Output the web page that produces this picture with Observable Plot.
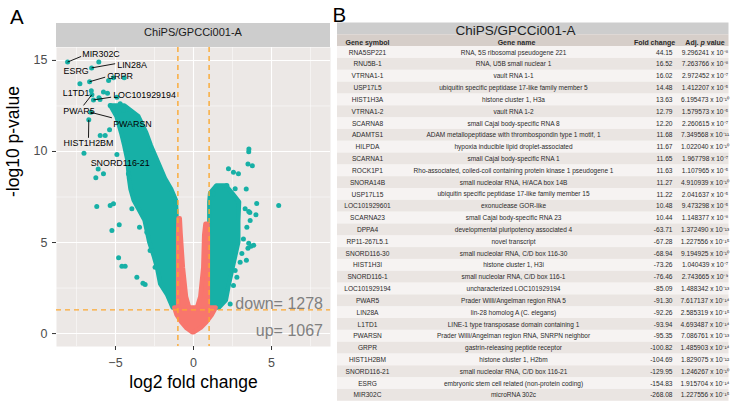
<!DOCTYPE html>
<html>
<head>
<meta charset="utf-8">
<script src="https://cdn.jsdelivr.net/npm/d3@7"></script>
<script src="https://cdn.jsdelivr.net/npm/@observablehq/plot@0.6"></script>
<style>
html, body { margin: 0; padding: 0; background: #fff; }
#wrap { position: relative; width: 735px; height: 408px; overflow: hidden; font-family: "Liberation Sans", Arial, sans-serif; }
.letter { position: absolute; font-size: 20.5px; line-height: 1; color: #000; z-index: 3; }
#strip { position: absolute; left: 56px; top: 23px; width: 274px; height: 24px; background: #CDCDCD; color: #1a1a1a; font-size: 11px; line-height: 19px; text-align: center; z-index: 2; }
#volcano, #table { position: absolute; top: 0; }
#volcano { left: 0; }
#table { left: 337px; }
</style>
</head>
<body>
<div id="wrap">
  <div id="volcano"></div>
  <div id="table"></div>
  <div id="strip"></div>
  <div class="letter" style="left:10px;top:6.6px">A</div>
  <div class="letter" style="left:332.5px;top:4.6px">B</div>
</div>
<script>
// ---------------- data ----------------
const panelTitle = "ChiPS/GPCCi001-A";
const xTitle = "log2 fold change";
const yTitle = "-log10 p-value";
const xTicks = [-5, 0, 5];
const yTicks = [0, 5, 10, 15];
const xMinor = [-7.5, -2.5, 2.5, 7.5];
const yMinor = [2.5, 7.5, 12.5];
const fcCut = [-1, 1];
const pCut = [1.3];
const countLabels = ["down= 1278", "up= 1067"];
const countX = [8.3, 8.3];
const countY = [1.65, 0.17];

const headerLabels = ["Gene symbol", "Gene name", "Fold change", "Adj. p value"];
const geneSymbol = ["RNA5SP221","RNU5B-1","VTRNA1-1","USP17L5","HIST1H3A","VTRNA1-2","SCARNA8","ADAMTS1","HILPDA","SCARNA1","ROCK1P1","SNORA14B","USP17L15","LOC101929601","SCARNA23","DPPA4","RP11-267L5.1","SNORD116-30","HIST1H3I","SNORD116-1","LOC101929194","PWAR5","LIN28A","L1TD1","PWARSN","GRPR","HIST1H2BM","SNORD116-21","ESRG","MIR302C"];
const geneName = ["RNA, 5S ribosomal pseudogene 221","RNA, U5B small nuclear 1","vault RNA 1-1","ubiquitin specific peptidase 17-like family member 5","histone cluster 1, H3a","vault RNA 1-2","small Cajal body-specific RNA 8","ADAM metallopeptidase with thrombospondin type 1 motif, 1","hypoxia inducible lipid droplet-associated","small Cajal body-specific RNA 1","Rho-associated, coiled-coil containing protein kinase 1 pseudogene 1","small nucleolar RNA, H/ACA box 14B","ubiquitin specific peptidase 17-like family member 15","exonuclease GOR-like","small Cajal body-specific RNA 23","developmental pluripotency associated 4","novel transcript","small nucleolar RNA, C/D box 116-30","histone cluster 1, H3i","small nucleolar RNA, C/D box 116-1","uncharacterized LOC101929194","Prader Willi/Angelman region RNA 5","lin-28 homolog A (C. elegans)","LINE-1 type transposase domain containing 1","Prader Willi/Angelman region RNA, SNRPN neighbor","gastrin-releasing peptide receptor","histone cluster 1, H2bm","small nucleolar RNA, C/D box 116-21","embryonic stem cell related (non-protein coding)","microRNA 302c"];
const foldChange = [44.15,16.52,16.02,14.48,13.63,12.79,12.20,11.68,11.67,11.65,11.63,11.27,11.22,10.48,10.44,-63.71,-67.28,-68.94,-73.26,-76.46,-85.09,-91.30,-92.26,-93.94,-95.35,-100.82,-104.69,-129.95,-154.83,-268.08];
const pMantissa = [9.296241,7.263766,2.972452,1.412207,6.195473,1.579573,2.260615,7.349568,1.022040,1.967798,1.107965,4.910939,2.041637,9.473298,1.148377,1.372490,1.227556,9.194925,1.040439,2.743665,1.488342,7.617137,2.585319,4.693487,7.086761,1.485903,1.829075,1.246267,1.915704,1.227556];
const pExponent = [-8,-8,-7,-5,-10,-5,-7,-11,-10,-7,-5,-10,-5,-5,-8,-13,-15,-10,-7,-9,-13,-14,-15,-14,-13,-14,-12,-10,-14,-15];

// positions of these genes in the volcano plot (log2 FC, -log10 p)
const geneLog2FC = [5.46,4.05,4.00,3.86,3.77,3.68,3.61,3.55,3.54,3.54,3.54,3.49,3.49,3.39,3.38,-5.99,-6.07,-6.11,-6.20,-6.26,-6.41,-6.51,-6.53,-6.55,-6.58,-6.66,-6.71,-7.02,-7.28,-8.07];
const geneNegLog10P = [7.03,7.14,6.53,4.85,9.21,4.80,6.65,10.13,9.99,6.71,4.96,9.31,4.69,4.02,7.94,12.86,14.91,9.04,6.98,8.56,12.83,13.12,14.59,13.33,12.15,13.83,11.74,9.90,13.72,14.91];

// other isolated significant points
const extraX = [-5.44,-5.13,-4.44,-5.77,-5.51,-6.06,-5.38,-5.98,-5.66,-4.91,-5.77,-4.17,-4.91,-4.70,-4.49,-5.02,-5.34,-5.34,-5.13,-3.95,-4.76,-5.23,-3.46,-4.80,-4.59,-4.38,-3.63,-3.24,-3.10,-2.46,-2.78,-2.99,
                2.24,2.56,2.88,1.71,2.14,2.67,1.28,2.99,2.67,2.56,2.35,2.78,3.42,3.63,3.31,3.20,3.10];
const extraY = [13.90,14.05,14.05,13.26,13.20,12.95,11.19,10.88,10.88,9.84,8.77,8.77,12.98,12.62,12.25,12.25,12.53,7.03,7.13,6.85,5.97,5.66,5.84,4.16,3.70,3.70,3.09,2.76,2.69,3.64,4.56,5.57,
                9.05,8.86,8.77,8.04,8.13,7.95,7.68,3.92,3.46,2.64,1.63,3.09,5.84,6.21,6.85,5.20,4.40];

// dense point clouds: outline per -log10 p level (left / right extent)
const tlY  = [1.4, 1.7, 2.1, 2.7, 3.6, 4.2, 5.0, 6.2, 7.3, 7.9, 8.5, 9.5, 10.3, 11.0, 11.9, 12.5];
const tlX1 = [-1.3,-1.45,-1.65,-2.1,-2.3,-2.5,-2.8,-3.1,-3.8,-4.0,-4.1,-4.2,-4.4,-4.6,-4.9,-5.3];
const tlX2 = [-1.05,-1.05,-1.05,-1.05,-1.05,-1.05,-1.05,-1.05,-1.1,-1.4,-1.8,-2.3,-2.7,-3.0,-3.5,-4.4];
const trY  = [1.4, 1.8, 2.7, 3.65, 5.0, 6.2, 7.2, 7.7, 8.1];
const trX1 = [1.05,1.05,1.05,1.05,1.05,1.05,1.05,1.1,1.5];
const trX2 = [1.65,2.1,2.3,2.55,2.9,2.9,2.95,2.5,2.1];
const rbY  = [0.05, 0.3, 0.6, 1.0, 1.4];
const rbX1 = [-0.05,-0.45,-0.75,-1.05,-1.2];
const rbX2 = [0.05,0.5,0.85,1.2,1.45];
const rlY  = [1.3, 2.0, 3.6, 5.5, 6.3];
const rlX1 = [-0.95,-0.95,-0.95,-0.95,-0.93];
const rlX2 = [-0.22,-0.45,-0.65,-0.8,-0.85];
const rrY  = [1.3, 2.0, 3.6, 5.4, 6.0];
const rrX1 = [0.22,0.47,0.66,0.72,0.8];
const rrX2 = [0.95,0.95,0.95,0.95,0.93];

// gene labels
const labelGene = ["MIR302C","LIN28A","ESRG","GRPR","L1TD1","LOC101929194","PWAR5","PWARSN","HIST1H2BM","SNORD116-21"];
const labelX = [-7.13,-4.89,-7.52,-5.53,-7.53,-5.15,-7.34,-5.15,-6.73,-4.70];
const labelY = [15.33,14.76,14.40,14.12,13.22,13.08,12.20,11.52,10.46,9.38];
const leaderGene = ["MIR302C","LIN28A","GRPR","LOC101929194","PWAR5","PWARSN","HIST1H2BM"];
const leaderEndX = [-7.2,-5.02,-5.66,-5.28,-7.05,-5.23,-6.73];
const leaderEndY = [15.22,14.82,14.08,12.98,12.53,11.85,10.75];

// ---------------- build ----------------
const TEAL = "#17B0A6", RED = "#F8766D", ORANGE = "#FBA832";
const font = "'Liberation Sans', Arial, sans-serif";
const outline = (Y, X1, X2) => Y.map((y, i) => ({y, x1: X1[i], x2: X2[i]}));
const genePts = geneSymbol.map((g, i) => ({g, x: geneLog2FC[i], y: geneNegLog10P[i]}));
const extraPts = extraX.map((x, i) => ({x, y: extraY[i]}));
const labels = labelGene.map((g, i) => ({g, x: labelX[i], y: labelY[i]}));
const startAnchored = new Set(["MIR302C","LIN28A","GRPR","LOC101929194","PWARSN"]);
const leaders = leaderGene.map((g, i) => {
  const k = geneSymbol.indexOf(g);
  return {x1: geneLog2FC[k], y1: geneNegLog10P[k], x2: leaderEndX[i], y2: leaderEndY[i]};
});
const counts = countLabels.map((t, i) => ({t, x: countX[i], y: countY[i]}));
const areaOpts = (fill) => ({y: "y", x1: "x1", x2: "x2", fill, stroke: fill, strokeWidth: 4.5, strokeLinejoin: "round"});

document.getElementById("strip").textContent = panelTitle;

const volcano = Plot.plot({
  width: 335, height: 408,
  marginLeft: 56, marginRight: 5, marginTop: 47, marginBottom: 62,
  style: {fontFamily: font, background: "transparent", overflow: "visible"},
  x: {domain: [-8.78, 8.78]},
  y: {domain: [-0.71, 15.71]},
  marks: [
    Plot.frame({fill: "#ECE8E6", stroke: "none"}),
    Plot.ruleX(xMinor, {stroke: "#fff", strokeWidth: 0.5}),
    Plot.ruleY(yMinor, {stroke: "#fff", strokeWidth: 0.5}),
    Plot.ruleX(xTicks, {stroke: "#fff", strokeWidth: 1.1}),
    Plot.ruleY(yTicks, {stroke: "#fff", strokeWidth: 1.1}),
    Plot.areaX(outline(tlY, tlX1, tlX2), areaOpts(TEAL)),
    Plot.areaX(outline(trY, trX1, trX2), areaOpts(TEAL)),
    Plot.dot(extraPts, {x: "x", y: "y", r: 2.5, fill: TEAL}),
    Plot.dot(genePts, {x: "x", y: "y", r: 2.5, fill: TEAL}),
    Plot.areaX(outline(rbY, rbX1, rbX2), areaOpts(RED)),
    Plot.areaX(outline(rlY, rlX1, rlX2), areaOpts(RED)),
    Plot.areaX(outline(rrY, rrX1, rrX2), areaOpts(RED)),
    Plot.ruleX(fcCut, {stroke: ORANGE, strokeWidth: 1.4, strokeDasharray: "5,4"}),
    Plot.ruleY(pCut, {stroke: ORANGE, strokeWidth: 1.4, strokeDasharray: "5,4"}),
    Plot.text(counts, {x: "x", y: "y", text: "t", textAnchor: "end", fontSize: 16, fill: "#808080"}),
    Plot.link(leaders, {x1: "x1", y1: "y1", x2: "x2", y2: "y2", stroke: "#000", strokeWidth: 0.9}),
    Plot.text(labels.filter(d => startAnchored.has(d.g)), {x: "x", y: "y", text: "g", textAnchor: "start", fontSize: 8.9, fill: "#000"}),
    Plot.text(labels.filter(d => !startAnchored.has(d.g)), {x: "x", y: "y", text: "g", textAnchor: "middle", fontSize: 8.9, fill: "#000"}),
    Plot.axisX(xTicks, {tickSize: 4, tickPadding: 8, fontSize: 12.5, stroke: "#333", fill: "#4d4d4d", label: null}),
    Plot.axisY(yTicks, {tickSize: 4, tickPadding: 5, fontSize: 12.5, stroke: "#333", fill: "#4d4d4d", label: null}),
    Plot.text([xTitle], {text: d => d, frameAnchor: "bottom", dy: 41.5, fontSize: 17.5, fill: "#000"}),
    Plot.text([yTitle], {text: d => d, frameAnchor: "left", dx: -43.3, rotate: -90, fontSize: 17.5, fill: "#000"})
  ]
});
document.getElementById("volcano").appendChild(volcano);

// ---------------- table ----------------
const sup = {"-": "\u207B", "0": "\u2070", "1": "\u00B9", "2": "\u00B2", "3": "\u00B3", "4": "\u2074", "5": "\u2075", "6": "\u2076", "7": "\u2077", "8": "\u2078", "9": "\u2079"};
const fmtP = (m, e) => m.toFixed(6) + " x 10" + String(e).split("").map(c => sup[c]).join("");
const rows = geneSymbol.map((s, i) => ({key: s, i, name: geneName[i], fc: foldChange[i].toFixed(2), p: fmtP(pMantissa[i], pExponent[i])}));
const rowKeys = ["__title", "__header", ...geneSymbol];
const TW = 391.5;
const colSeps = [60, 292, 342];
const headerX = [30, 179, 317, 367.5];
const sepData = rowKeys.slice(1).flatMap(k => colSeps.map(x => ({k, x})));

const table = Plot.plot({
  width: 392, height: 408, margin: 0,
  style: {fontFamily: font, background: "transparent", overflow: "visible"},
  x: {domain: [0, 392], axis: null},
  y: {type: "band", domain: rowKeys, range: [22.5, 22.5 + 32 * 11.82], padding: 0, round: false, axis: null},
  marks: [
    Plot.barX([{k: "__title"}], {y: "k", x1: 0, x2: TW, fill: "#CDCDCD"}),
    Plot.barX([{k: "__header"}], {y: "k", x1: 0, x2: TW, fill: "#D6CEC9"}),
    Plot.barX(rows.filter(r => r.i % 2 === 0), {y: "key", x1: 0, x2: TW, fill: "#F6F3F2"}),
    Plot.barX(rows.filter(r => r.i % 2 === 1), {y: "key", x1: 0, x2: TW, fill: "#EAE5E2"}),
    Plot.ruleX(sepData, {x: "x", y: "k", stroke: "#fff", strokeWidth: 1}),
    Plot.text([{k: "__title", t: panelTitle}], {x: 178, y: "k", text: "t", dy: 1.8, fontSize: 13.5, fill: "#222", ariaLabel: "table-title"}),
    Plot.text(headerLabels, {x: (d, i) => headerX[i], y: () => "__header", text: d => d, dy: 1.6, fontSize: 7, fontWeight: "bold", fill: "#2a2a2a", ariaLabel: "table-header"}),
    Plot.text(rows, {x: 30, y: "key", text: "key", fontSize: 6.6, fill: "#2a2a2a"}),
    Plot.text(rows, {x: 176, y: "key", text: "name", fontSize: 6.5, fill: "#2a2a2a", ariaLabel: "gene-names"}),
    Plot.text(rows, {x: 335, y: "key", text: "fc", textAnchor: "end", fontSize: 6.6, fill: "#2a2a2a"}),
    Plot.text(rows, {x: 367.5, y: "key", text: "p", fontSize: 6.6, fill: "#2a2a2a"})
  ]
});
d3.select(table).selectAll('g[aria-label="gene-names"] text')
  .attr("transform", function () { return this.getAttribute("transform") + " scale(0.7,1)"; });
d3.select(table).selectAll('g[aria-label="table-title"] text')
  .attr("transform", function () { return this.getAttribute("transform") + " scale(0.82,1)"; });
d3.select(table).selectAll("text").filter(function () { return this.textContent === "Adj. p value"; })
  .each(function () {
    const t = d3.select(this);
    t.text(null);
    t.append("tspan").text("Adj. ");
    t.append("tspan").attr("font-style", "italic").text("p");
    t.append("tspan").text(" value");
  });
document.getElementById("table").appendChild(table);
</script>
</body>
</html>
